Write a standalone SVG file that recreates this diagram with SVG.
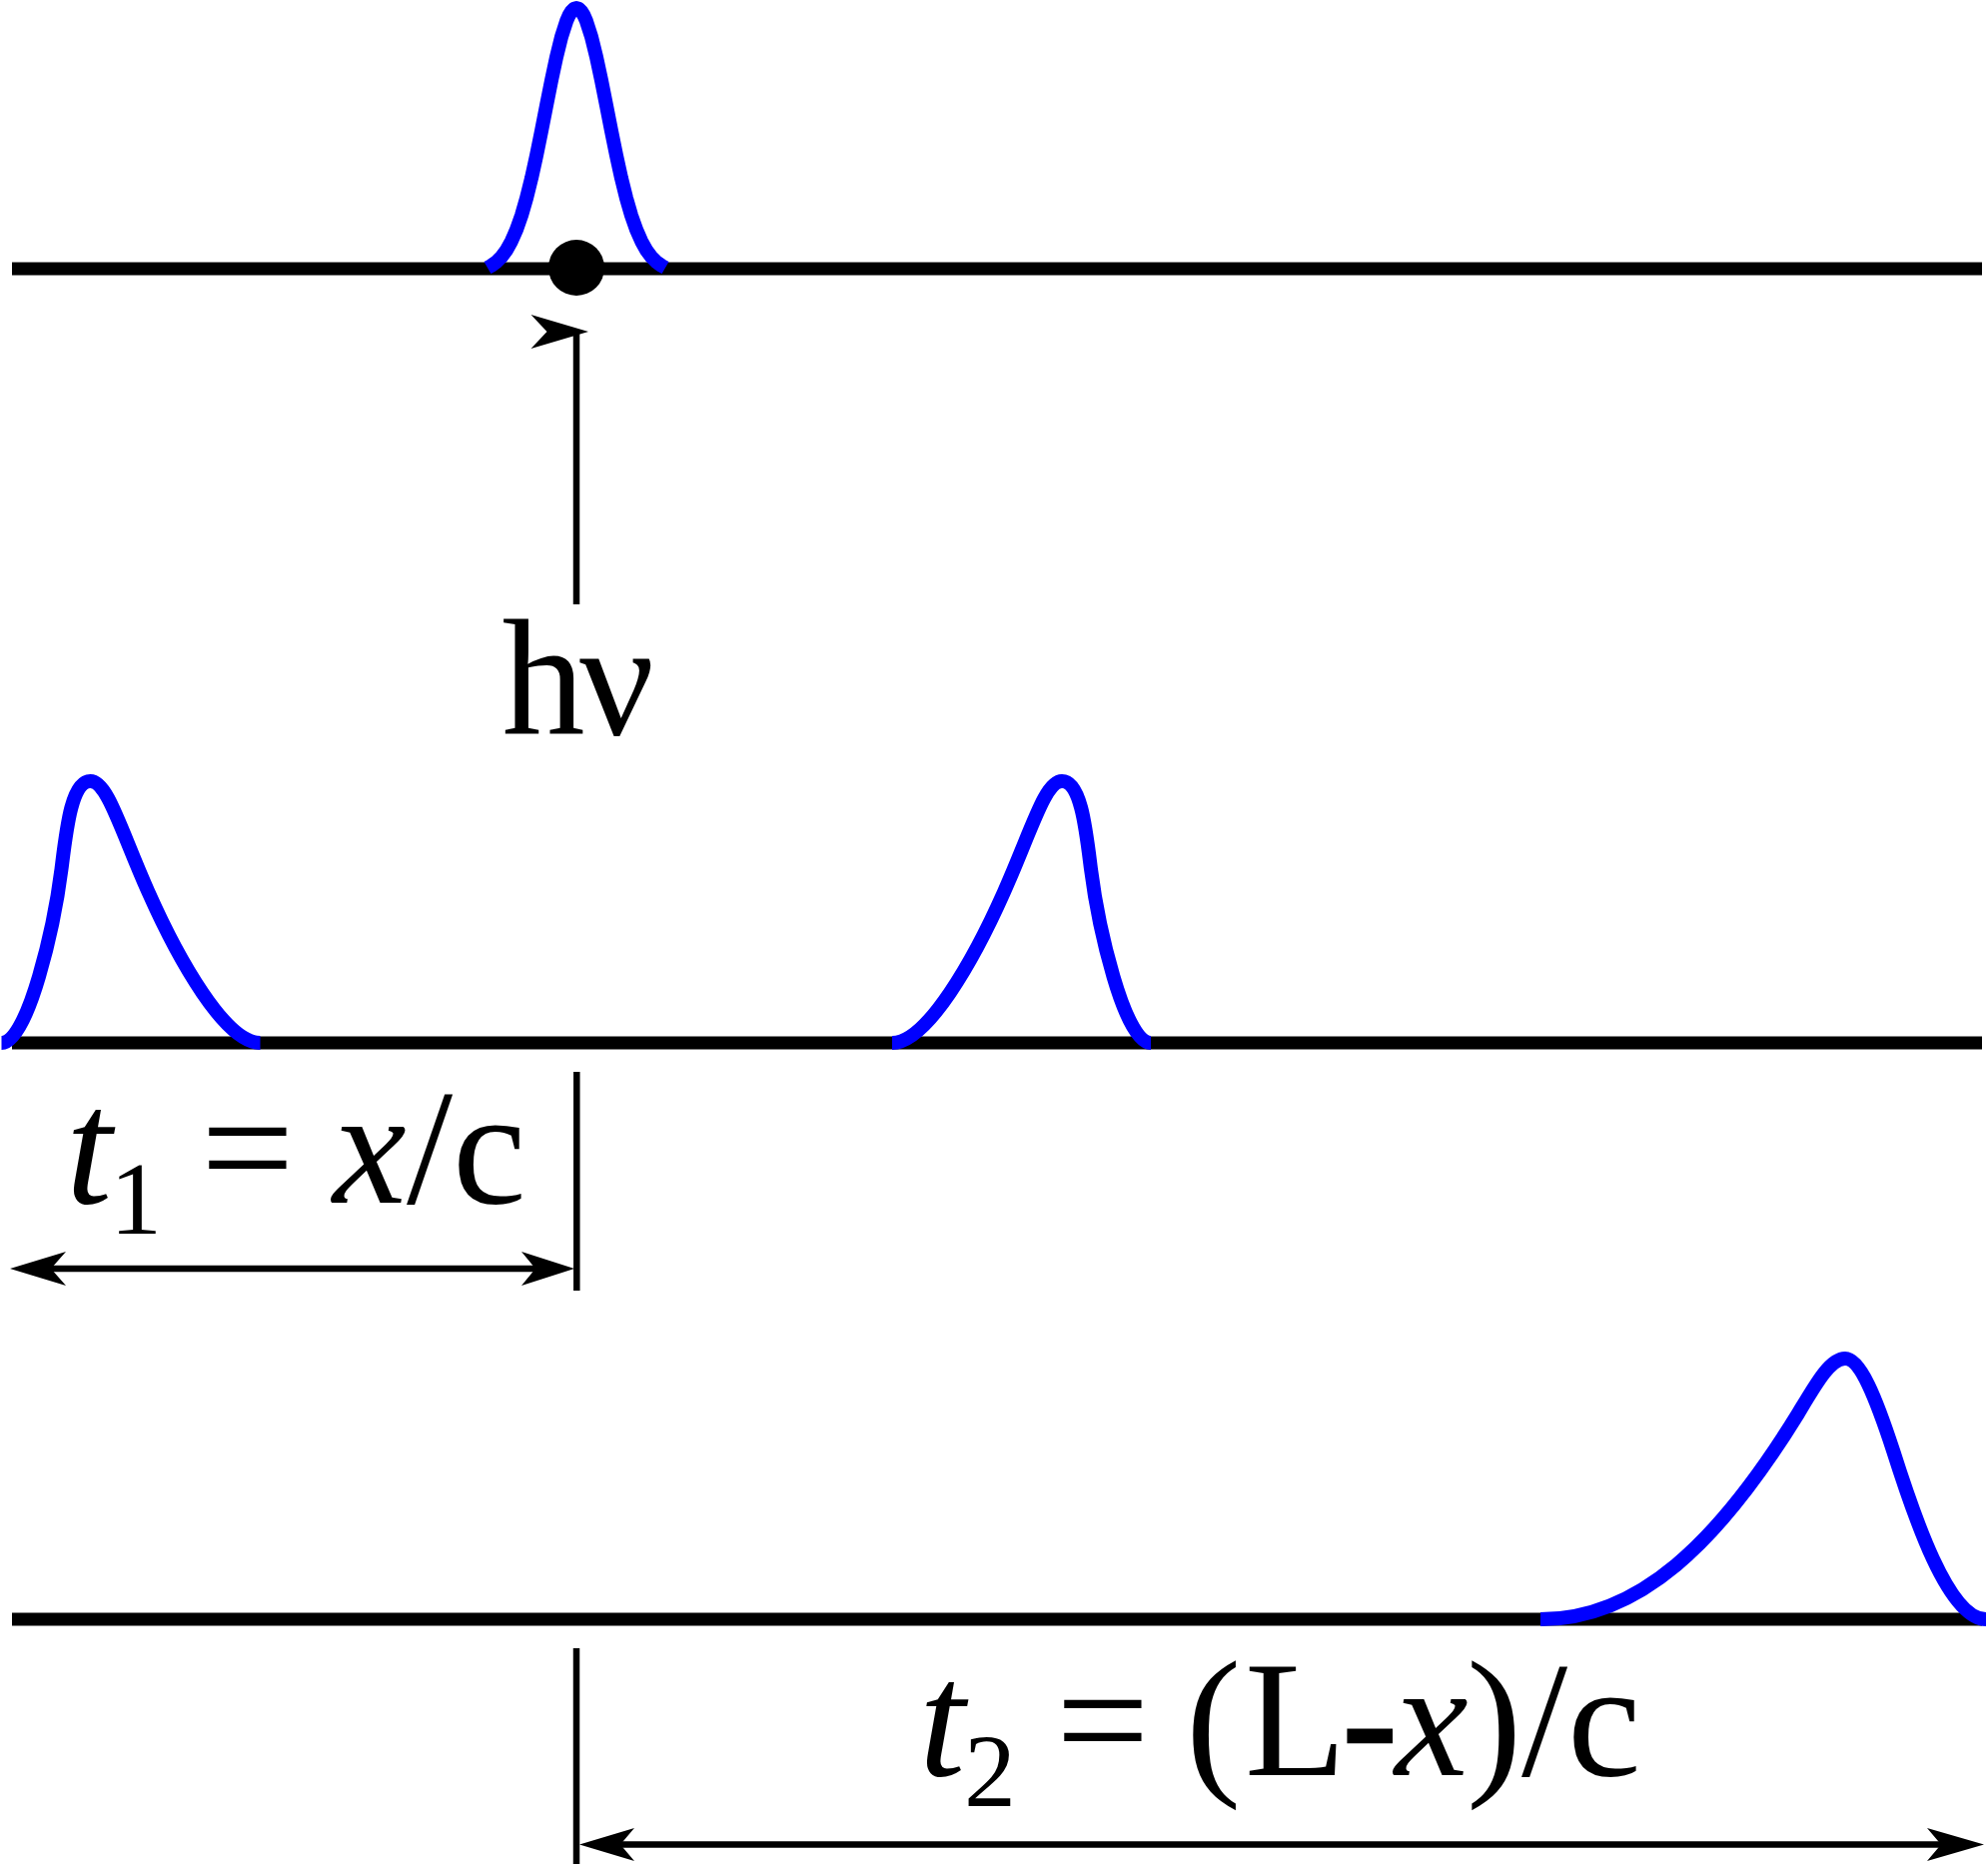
<svg xmlns="http://www.w3.org/2000/svg" width="1990" height="1866" viewBox="0 0 1990 1866">
<style>
.axis{stroke:#000;stroke-width:13;fill:none}
.pulse{stroke:#0000ff;stroke-width:14;fill:none;stroke-linejoin:round}
.thin{stroke:#000;stroke-width:6.5;fill:none}
.head{fill:#000;stroke:none}
.lbl{font-family:"Liberation Serif","Times New Roman",serif;font-size:166px;fill:#000}
.it{font-style:italic}
.sub{font-size:104px}
</style>
<rect width="1990" height="1866" fill="#fff"/>
<g id="axes">
<line class="axis" x1="12" y1="269" x2="1984" y2="269"/>
<line class="axis" x1="12" y1="1044" x2="1984" y2="1044"/>
<line class="axis" x1="12" y1="1621" x2="1984" y2="1621"/>
</g>
<g id="pulse-top">
<polyline class="pulse" points="488,268 492,265.7 497,262.1 502,257.1 507,250.3 512,241.3 517,229.9 522,215.7 527,198.5 532,178.4 537,155.7 542,131.1 547,105.7 552,80.5 557,57.1 562,36.8 567,21.3 569.5,15.5 572,11.4 574.5,8.9 577,8 579.5,8.9 582,11.4 584.5,15.5 587,21.3 592,36.8 597,57.1 602,80.5 607,105.7 612,131.1 617,155.7 622,178.4 627,198.5 632,215.7 637,229.9 642,241.3 647,250.3 652,257.1 657,262.1 662,265.7 666,268"/>
</g>
<g id="atom">
<circle cx="577" cy="268" r="28" fill="#000"/>
</g>
<g id="pulse-left">
<path class="pulse" d="M260.5,1044 C225.5,1044 178.5,960.5 148.5,893 C120.5,830 107.5,782 90.5,782 C71.5,782 66.5,830 61.5,870 C54.5,925 28.5,1044 1.5,1044"/>
</g>
<g id="pulse-right">
<path class="pulse" d="M893,1044 C928,1044 975,960.5 1005,893 C1033,830 1046,782 1063,782 C1082,782 1087,830 1092,870 C1099,925 1125,1044 1152,1044"/>
</g>
<g id="pulse-bottom">
<path class="pulse" d="M1542,1621 C1640,1621 1720,1545 1800,1415 C1818,1385 1832,1360 1847,1360 C1862,1360 1878,1400 1895,1452 C1915,1515 1950,1621 1988,1621"/>
</g>
<g id="connectors">
<line class="thin" x1="577" y1="332" x2="577" y2="605"/>
<polygon class="head" points="589,332 531.5,315 547.5,332 531.5,349"/>
<line class="thin" x1="577.3" y1="1073" x2="577.3" y2="1292"/>
<line class="thin" x1="30" y1="1270" x2="560" y2="1270"/>
<polygon class="head" points="10,1270 66,1253 51,1270 66,1287"/>
<polygon class="head" points="575,1270 522,1253 536,1270 522,1287"/>
<line class="thin" x1="577" y1="1650" x2="577" y2="1866"/>
<line class="thin" x1="600" y1="1846.5" x2="1965" y2="1846.5"/>
<polygon class="head" points="580,1846.5 635,1830 621,1846.5 635,1863"/>
<polygon class="head" points="1986,1846.5 1929,1830 1943,1846.5 1929,1863"/>
</g>
<g id="label-hv">
<text class="lbl" y="735"><tspan x="502.5">h</tspan><tspan x="580">ν</tspan></text>
</g>
<g id="label-t1">
<text class="lbl" y="1204"><tspan class="it" x="66">t</tspan><tspan class="sub" x="110" y="1235">1</tspan><tspan x="201" y="1204">=</tspan><tspan class="it" x="333">x</tspan><tspan x="407">/</tspan><tspan x="453">c</tspan></text>
</g>
<g id="label-t2">
<text class="lbl" y="1777"><tspan class="it" x="920">t</tspan><tspan class="sub" x="965" y="1808">2</tspan><tspan x="1057" y="1777">=</tspan><tspan x="1187">(</tspan><tspan x="1246">L</tspan><tspan x="1343.5" stroke="#000" stroke-width="2.5">-</tspan><tspan class="it" x="1396">x</tspan><tspan x="1468">)</tspan><tspan x="1523">/</tspan><tspan x="1569">c</tspan></text>
</g>
</svg>
